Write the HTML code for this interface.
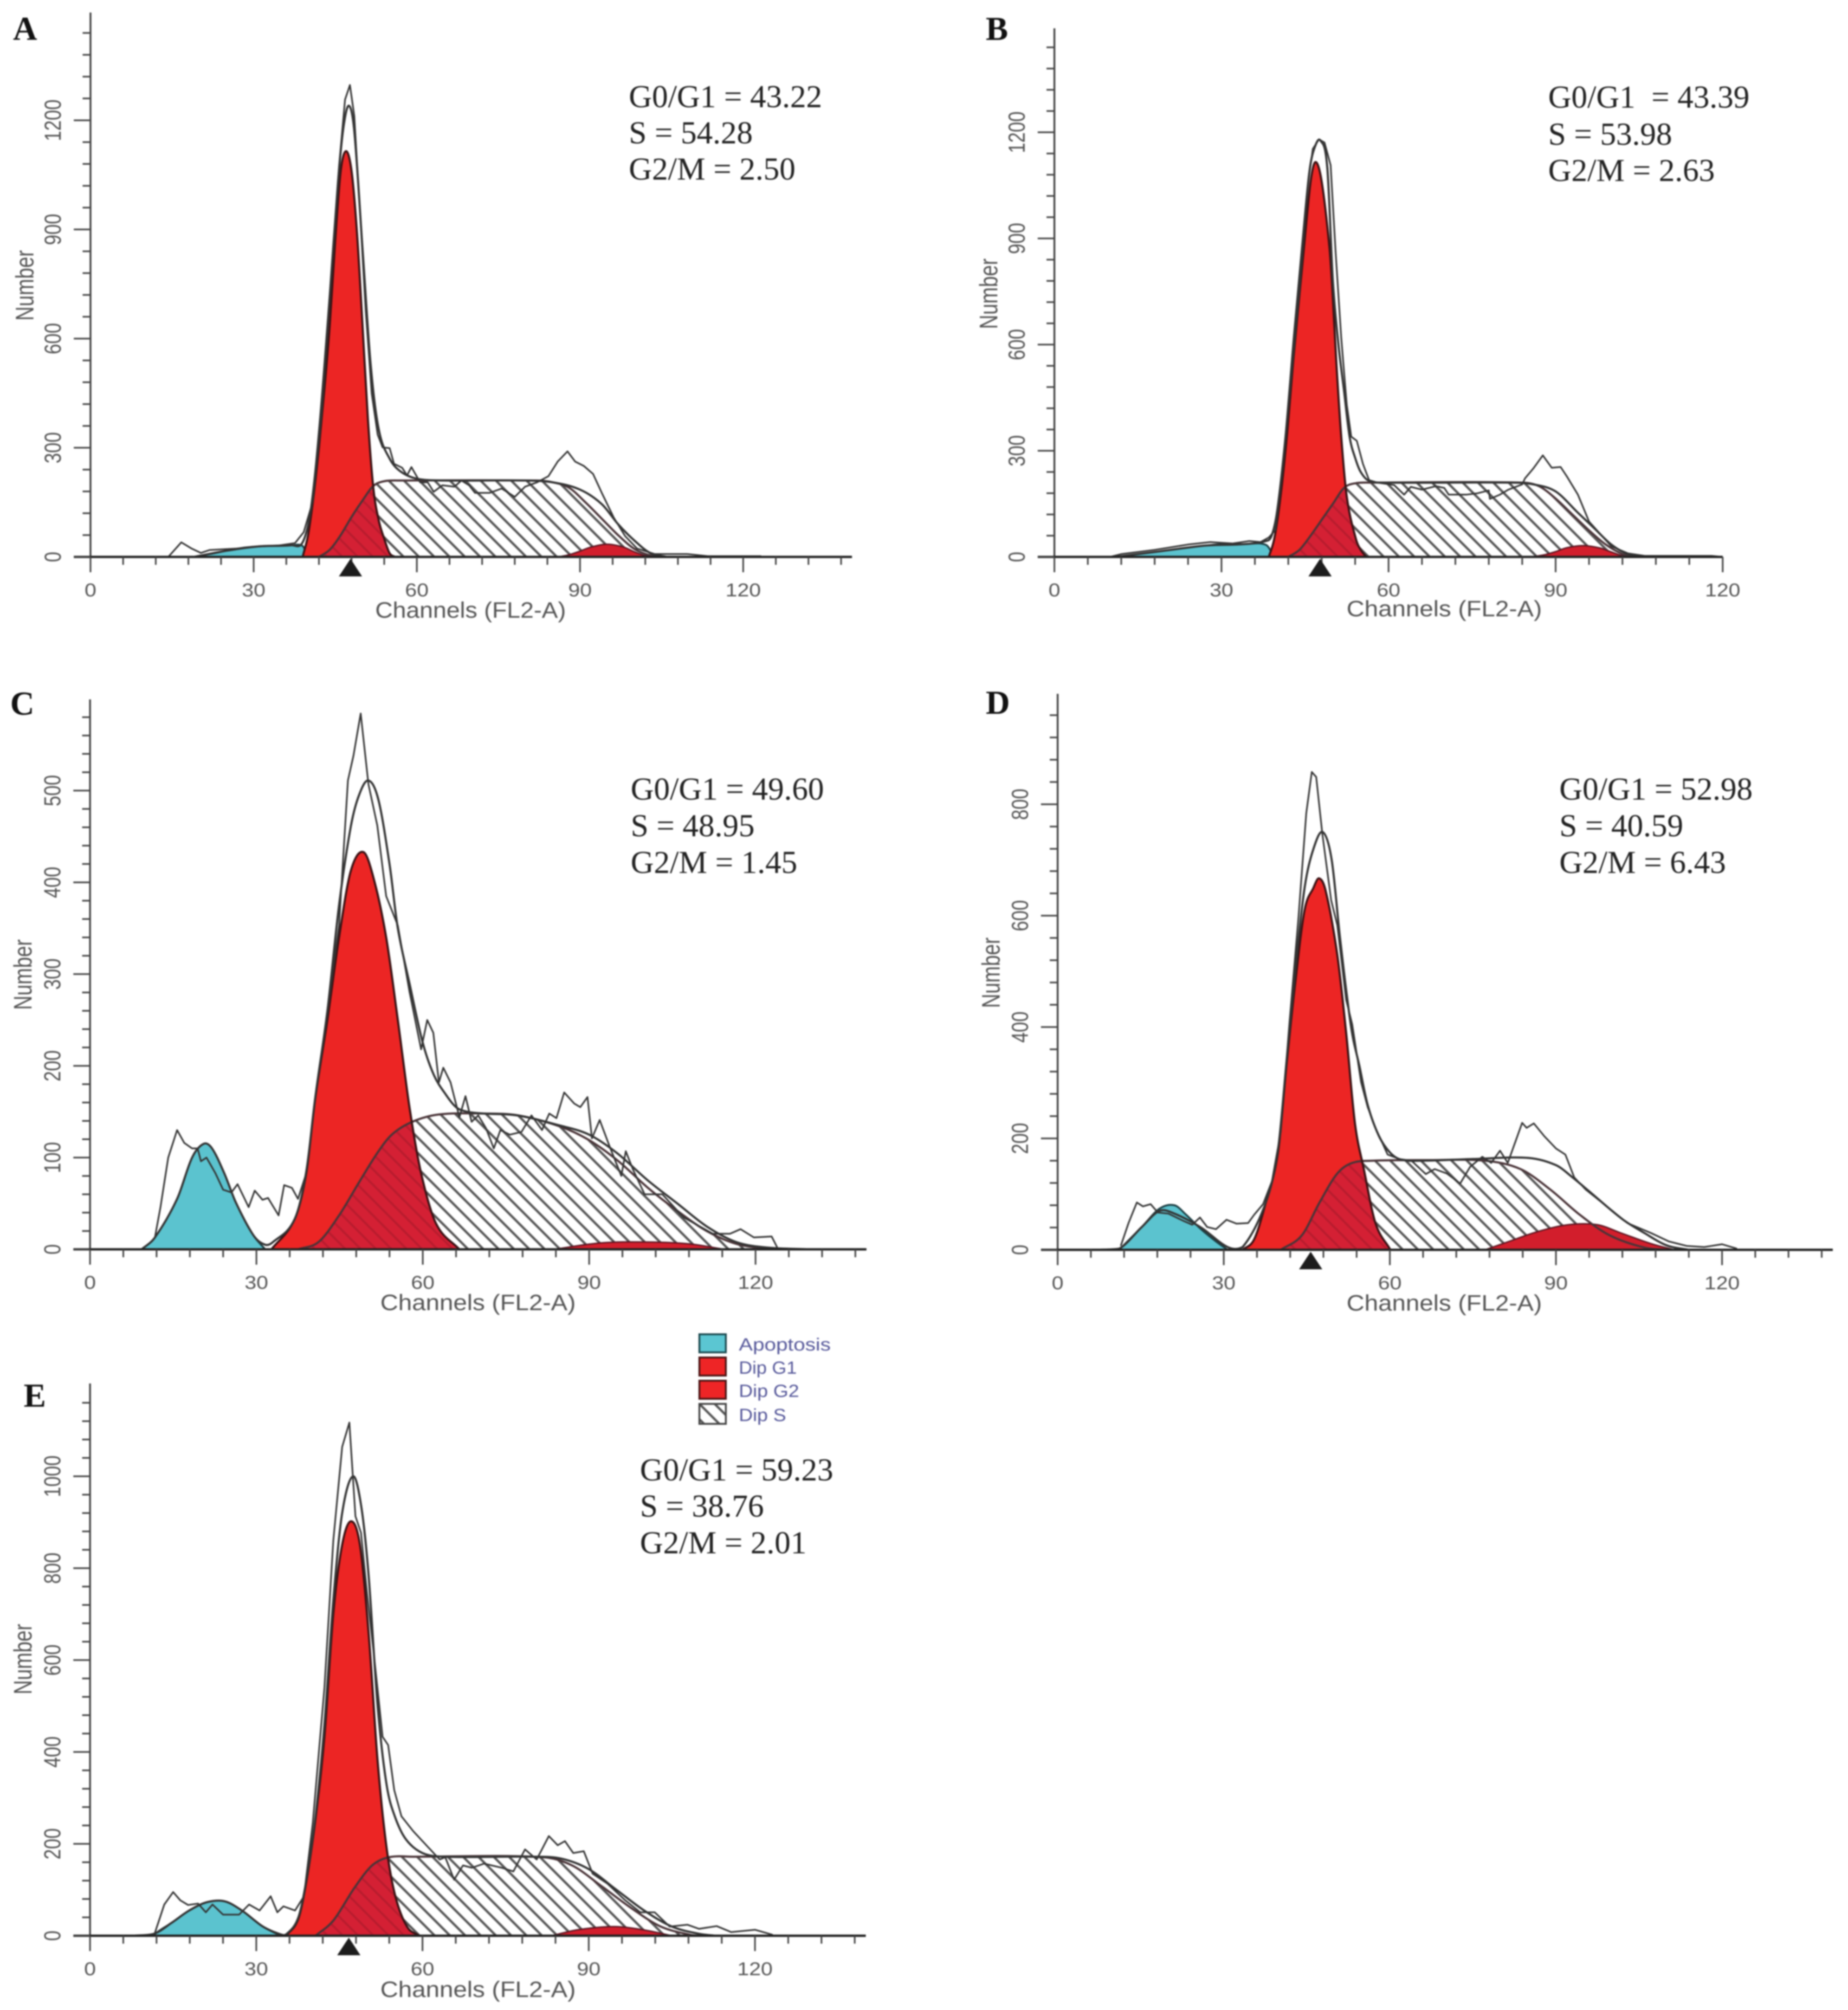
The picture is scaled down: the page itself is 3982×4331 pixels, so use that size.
<!DOCTYPE html>
<html lang="en">
<head>
<meta charset="utf-8">
<title>Cell cycle histograms</title>
<style>
html,body{margin:0;padding:0;background:#fff;}
svg{display:block;filter:blur(1.6px);}
.stat{font-family:"Liberation Serif",serif;font-size:69px;fill:#222;}
.letter{font-family:"Liberation Serif",serif;font-size:72px;font-weight:bold;fill:#111;}
.title{font-family:"Liberation Sans",sans-serif;font-size:48px;fill:#555;}
.legend{font-family:"Liberation Sans",sans-serif;font-size:38px;fill:#56589a;}
</style>
</head>
<body>
<svg id="figure" xmlns="http://www.w3.org/2000/svg" width="3982" height="4331" viewBox="0 0 3982 4331">
<defs>
<pattern id="hatch" patternUnits="userSpaceOnUse" width="33" height="33">
<path d="M-5,-5 L38,38 M-5,28 L5,38 M28,-5 L38,5" stroke="#555" stroke-width="5" fill="none"/>
</pattern>
<pattern id="hatchDark" patternUnits="userSpaceOnUse" width="33" height="33">
<rect width="33" height="33" fill="#d42034"/>
<path d="M-5,-5 L38,38 M-5,28 L5,38 M28,-5 L38,5" stroke="#b81c2e" stroke-width="4.5" fill="none"/>
</pattern>
</defs>
<rect width="3982" height="4331" fill="#fff"/>
<g id="plots"></g>

<g>
<text class="letter" x="28" y="86">A</text>
<text class="stat" x="1355" y="231">G0/G1 = 43.22</text>
<text class="stat" x="1355" y="309">S = 54.28</text>
<text class="stat" x="1355" y="387">G2/M = 2.50</text>
<text class="title" x="1014" y="1331" text-anchor="middle" textLength="411" lengthAdjust="spacingAndGlyphs">Channels (FL2-A)</text>
<text class="title" transform="translate(72,615) rotate(-90)" text-anchor="middle" font-size="55" style="font-size:55px" textLength="152" lengthAdjust="spacingAndGlyphs">Number</text>
</g>
<g>
<text class="letter" x="2124" y="86">B</text>
<text class="stat" x="3336" y="232" xml:space="preserve">G0/G1  = 43.39</text>
<text class="stat" x="3336" y="312">S = 53.98</text>
<text class="stat" x="3336" y="390">G2/M = 2.63</text>
<text class="title" x="3112" y="1328" text-anchor="middle" textLength="421" lengthAdjust="spacingAndGlyphs">Channels (FL2-A)</text>
<text class="title" transform="translate(2149,633) rotate(-90)" text-anchor="middle" style="font-size:55px" textLength="152" lengthAdjust="spacingAndGlyphs">Number</text>
</g>
<g>
<text class="letter" x="22" y="1540">C</text>
<text class="stat" x="1359" y="1723">G0/G1 = 49.60</text>
<text class="stat" x="1359" y="1802">S = 48.95</text>
<text class="stat" x="1359" y="1881">G2/M = 1.45</text>
<text class="title" x="1030" y="2823" text-anchor="middle" textLength="421" lengthAdjust="spacingAndGlyphs">Channels (FL2-A)</text>
<text class="title" transform="translate(68,2100) rotate(-90)" text-anchor="middle" style="font-size:55px" textLength="152" lengthAdjust="spacingAndGlyphs">Number</text>
</g>
<g>
<text class="letter" x="2124" y="1538">D</text>
<text class="stat" x="3360" y="1723">G0/G1 = 52.98</text>
<text class="stat" x="3360" y="1802">S = 40.59</text>
<text class="stat" x="3360" y="1881">G2/M = 6.43</text>
<text class="title" x="3112" y="2824" text-anchor="middle" textLength="421" lengthAdjust="spacingAndGlyphs">Channels (FL2-A)</text>
<text class="title" transform="translate(2154,2096) rotate(-90)" text-anchor="middle" style="font-size:55px" textLength="152" lengthAdjust="spacingAndGlyphs">Number</text>
</g>
<g>
<text class="letter" x="51" y="3031">E</text>
<text class="stat" x="1379" y="3190">G0/G1 = 59.23</text>
<text class="stat" x="1379" y="3268">S = 38.76</text>
<text class="stat" x="1379" y="3347">G2/M = 2.01</text>
<text class="title" x="1030" y="4303" text-anchor="middle" textLength="421" lengthAdjust="spacingAndGlyphs">Channels (FL2-A)</text>
<text class="title" transform="translate(68,3575) rotate(-90)" text-anchor="middle" style="font-size:55px" textLength="152" lengthAdjust="spacingAndGlyphs">Number</text>
</g>

<g>
<rect x="1507" y="2875" width="57" height="39" fill="#5bc6d2" stroke="#1c4a50" stroke-width="4"/>
<text class="legend" x="1592" y="2910" textLength="198" lengthAdjust="spacingAndGlyphs">Apoptosis</text>
<rect x="1507" y="2925" width="57" height="39" fill="#ee2526" stroke="#4a1414" stroke-width="4"/>
<text class="legend" x="1592" y="2960" textLength="125" lengthAdjust="spacingAndGlyphs">Dip G1</text>
<rect x="1507" y="2975" width="57" height="39" fill="#ee2526" stroke="#4a1414" stroke-width="4"/>
<text class="legend" x="1592" y="3010" textLength="130" lengthAdjust="spacingAndGlyphs">Dip G2</text>
<rect x="1507" y="3025" width="57" height="43" fill="url(#hatch)" stroke="#444" stroke-width="4"/>
<text class="legend" x="1592" y="3062" textLength="102" lengthAdjust="spacingAndGlyphs">Dip S</text>
</g>
</svg>

<script>
// ---- Data: [channel, count] ----
const xTickLabels = [0, 30, 60, 90, 120];
const aYTickLabels = [0, 300, 600, 900, 1200];
const bYTickLabels = [0, 300, 600, 900, 1200];
const cYTickLabels = [0, 100, 200, 300, 400, 500];
const dYTickLabels = [0, 200, 400, 600, 800];
const eYTickLabels = [0, 200, 400, 600, 800, 1000];

const aMarker = [47.8];
const bMarker = [47.7];
const cMarker = [];
const dMarker = [45.7];
const eMarker = [46.7];

const aApoptosis = [[19,0],[22,8],[25,17],[28,25],[31,29],[34,31],[37,32],[39,30],[40,0]];
const aG1 = [[39,0],[40,60],[41,165],[42,300],[43,460],[44,640],[45,870],[46,1060],[47,1115],[48,1060],[49,890],[50,640],[51,380],[52,190],[53,100],[54,50],[55,10],[56,0]];
const aS = [[42,0],[44,20],[46,60],[48,110],[50,155],[52,195],[54,208],[57,210],[82,210],[85,205],[88,190],[91,150],[94,105],[97,60],[100,22],[103,4],[106,0]];
const aG2 = [[86,0],[88,6],[90,16],[92,27],[95,35],[98,27],[100,14],[102,3],[103,0]];
const aFit = [[19,0],[25,17],[31,29],[37,32],[39,40],[40.5,130],[42,340],[44,720],[45.5,1030],[46.5,1180],[47.5,1240],[48.5,1170],[50,850],[51.5,530],[53,350],[55,270],[57,235],[60,215],[65,210],[80,210],[85,205],[90,185],[94,145],[97,90],[100,45],[103,10],[106,0]];
const aRaw = [[14.3,0],[16.7,40],[18.6,23],[20.3,11],[21.9,19],[26.8,23],[30,28],[34.4,31],[37.6,38],[39.2,68],[40.9,154],[42.5,392],[44.1,734],[45.7,1075],[46.8,1257],[47.7,1297],[48.5,1212],[49.5,961],[50.6,677],[51.7,449],[52.8,336],[53.7,301],[55,299],[55.8,256],[57.3,245],[58.2,224],[59,247],[60.6,205],[62,205],[63.1,179],[64.7,197],[66.9,193],[68.2,210],[69.6,197],[70.7,176],[73.4,176],[75.6,188],[78,165],[79.9,193],[82.1,205],[84.2,222],[85.9,262],[87.7,290],[89.1,262],[90.7,250],[92.4,228],[94,176],[96.2,108],[98.3,57],[100.5,23],[103.7,8],[109.7,8],[113.5,2],[123.3,2]];

const bApoptosis = [[11,0],[15,8],[19,16],[23,24],[27,32],[30,36],[34,36],[38,34],[39.5,0]];
const bG1 = [[38.5,0],[39.5,53],[40.6,170],[41.8,350],[42.9,556],[44,740],[44.8,872],[46,1060],[46.9,1116],[48,1060],[49.4,872],[50,730],[50.6,556],[51.5,340],[52.5,170],[54.1,53],[55,20],[56,0]];
const bS = [[42,0],[44,20],[46,60],[48,105],[50,150],[52,195],[54,208],[57,210],[84,210],[87,200],[90,165],[93,120],[96,75],[99,35],[102,8],[104,0]];
const bG2 = [[85.6,0],[88,6],[90,15],[92,26],[95,32],[98,25],[100,14],[102,3],[103,0]];
const bFit = [[11,0],[19,16],[27,32],[34,36],[38,45],[39,60],[40,130],[41.5,340],[43,620],[44.5,880],[45.8,1090],[46.8,1160],[47.8,1176],[49,1100],[50,780],[51,600],[52,470],[53,340],[54,280],[55,240],[56.5,215],[60,210],[82,210],[86,205],[90,185],[94,125],[97,80],[100,35],[103,8],[106,0]];
const bRaw = [[10,0],[12,8],[18,20],[24,35],[28,42],[32,38],[35,45],[37,42],[38.5,55],[39.7,76],[41,250],[42.5,500],[44,750],[45.5,1050],[46.4,1153],[47.5,1180],[48.5,1171],[49.6,1107],[50.5,860],[51.5,620],[52.5,430],[53.3,340],[54.3,328],[55.4,263],[56.5,217],[58,210],[61,203],[62.8,176],[64,198],[66,190],[68.5,200],[70,195],[70.8,176],[74,176],[76,180],[78,188],[78.2,164],[80,176],[81.5,190],[84,205],[84.5,222],[86,250],[87.7,287],[89.3,252],[90.9,254],[92,228],[94,176],[96,100],[98,65],[100,30],[103,10],[106,3],[118,3],[120,0]];

const cApoptosis = [[9.3,0],[11.7,13],[15.7,55],[18.4,100],[20.5,115],[22,110],[24.2,83],[26.3,51],[29.5,15],[31.6,0]];
const cG1 = [[32.7,0],[36.9,33],[39,83],[40.6,164],[42.8,250],[44.9,340],[47,412],[49.3,433],[51.2,403],[53.4,340],[55.5,250],[57.6,155],[59.7,83],[62.4,28],[66.6,0]];
const cS = [[37.5,0],[41.2,8],[44.9,37],[48.6,74],[51.8,105],[54.4,125],[58.1,139],[62.9,147],[70.9,148],[77.2,146],[84.7,134],[90,119],[95.3,96],[100.6,67],[105.9,42],[111.2,20],[116.5,6],[121.8,1],[125,0]];
const cG2 = [[83.6,0],[92,7],[100.6,8],[108,6],[114.4,0]];
const cFit = [[9.3,0],[11.7,13],[15.7,55],[18.4,100],[20.5,115],[22,110],[24.2,83],[26.3,51],[29.5,15],[31.6,5],[33,8],[36.9,33],[39,85],[40.6,165],[42.8,260],[44.9,375],[47,460],[48.5,495],[50.2,511],[52,490],[54,420],[55.5,350],[57.6,290],[60,225],[62,190],[64,170],[66,155],[68,150],[71,148],[77,146],[84.7,135],[90,125],[95,105],[100.6,75],[105.9,50],[111.2,25],[116.5,8],[122,2],[130,0]];
const cRaw = [[11.7,13],[12.7,46],[14.1,100],[15.7,130],[17,116],[18.4,110],[19.4,110],[20,96],[21,100],[22.6,83],[24,65],[25.5,62],[26.6,71],[28.6,46],[29.7,64],[31.1,54],[32.1,56],[34,37],[35,70],[36.4,67],[37.5,55],[39,83],[40.6,164],[42.8,259],[44.9,353],[46.5,511],[47.5,538],[48.8,584],[50.2,507],[51.8,462],[53.4,385],[55.5,353],[57.6,281],[59.7,218],[60.8,250],[61.9,236],[62.9,182],[63.7,198],[65,182],[66.6,144],[67.7,167],[68.8,139],[70,146],[71.4,132],[72.8,110],[74,130],[75.7,125],[77.8,128],[79.6,146],[81.5,130],[82.8,148],[84.1,143],[85.5,171],[87.3,159],[88.4,155],[89.7,166],[90.5,121],[91.9,141],[93.7,112],[95.8,80],[96.6,107],[97.9,87],[100,60],[103.2,60],[107,35],[112.3,17],[115.4,17],[117.3,22],[119.7,13],[122.9,14],[124,1]];

const dApoptosis = [[11.1,0],[15.2,41],[18.4,74],[21.1,80],[23.2,63],[25.9,37],[28.6,15],[30.7,0]];
const dG1 = [[33.4,0],[35.5,19],[37.6,85],[39.8,175],[41.4,338],[43,487],[44.6,610],[46.2,650],[47.2,667],[48.4,645],[50.5,530],[52.1,390],[53.7,227],[55.3,145],[57.4,48],[60.1,0]];
const dS = [[40.3,0],[44.1,26],[47.3,85],[50.5,137],[53.2,156],[56.9,160],[66.5,161],[77.2,160],[83.6,145],[89,108],[94.3,63],[99.7,26],[106,4],[110.4,0]];
const dG2 = [[77.2,0],[81.5,15],[86.8,33],[92.2,45],[97.5,45],[101.8,30],[107.2,11],[111.4,0]];
const dFit = [[7,0],[11.1,2],[15.2,41],[18.4,70],[21.1,65],[25.9,40],[30.7,5],[33.4,5],[37.6,85],[39.8,180],[41.4,345],[43,510],[44.6,650],[46.2,720],[47.9,750],[49.5,700],[51,560],[53,400],[54.5,330],[56,260],[58,205],[60,175],[62,162],[66,160],[75,163],[85,165],[90,152],[93,130],[96,105],[102,55],[106,30],[110,8],[114,0]];
const dRaw = [[11.4,7],[12.8,48],[14.3,85],[15.4,78],[16.8,82],[18.1,67],[20,65],[22.7,52],[24.3,45],[25.7,58],[27,41],[28.6,37],[30.5,54],[32.3,47],[34.4,48],[35.5,63],[37.1,82],[38.7,123],[40.3,212],[41.9,412],[43.5,598],[44.9,784],[45.9,858],[46.7,849],[47.8,747],[49.4,628],[50.5,583],[52.1,449],[53.2,405],[54.8,301],[56,256],[57.4,219],[59.6,171],[61.7,163],[63.9,160],[66.5,136],[68.1,145],[70.3,137],[72.7,119],[74.5,149],[76.7,167],[78.3,156],[79.9,178],[81.3,156],[83.9,228],[84.7,219],[86,227],[87.9,204],[90,182],[91.7,171],[93.3,130],[95.4,108],[99.7,74],[102.9,48],[107.2,30],[110.4,15],[113.6,7],[116.8,5],[120,10],[122.7,2]];

const eApoptosis = [[11.7,0],[11.8,5],[14.7,28],[17.9,55],[21.1,73],[24.3,75],[27.4,55],[31.2,20],[34.4,0]];
const eG1 = [[35.4,0],[37.6,37],[39.1,122],[40.7,255],[42.3,433],[43.9,700],[45.5,851],[47.1,902],[48.7,851],[50.3,655],[51.9,380],[53.5,193],[55.1,86],[57.2,20],[59.4,0]];
const eS = [[40.7,0],[43.9,33],[47.7,104],[50.9,153],[54,171],[58.3,172],[81.7,171],[87,153],[92.3,108],[97.7,60],[103,20],[108.3,2],[110,0]];
const eG2 = [[83.3,0],[88,13],[94.5,20],[99.8,13],[105,0]];
const eFit = [[7.8,0],[11.7,5],[14.7,28],[17.9,55],[21.1,73],[24.3,75],[27.4,55],[31.2,20],[34.4,3],[35.4,3],[37.6,40],[39.1,125],[40.7,260],[42.3,460],[43.9,730],[45.5,920],[47.5,1000],[49,930],[50.3,780],[51.9,500],[53.5,330],[55,260],[57,210],[60,180],[64,172],[80,172],[85,168],[90,145],[95,100],[100,55],[105,20],[110,4],[113,0]];
const eRaw = [[11.7,6],[13.4,68],[15,95],[16.3,77],[17.7,67],[19.5,70],[20.9,51],[22.1,68],[24,46],[26.9,46],[28.7,68],[30.6,55],[32.6,86],[33.8,51],[34.9,64],[37,55],[38.6,86],[40.2,246],[42.3,540],[43.9,860],[45.5,1064],[46.8,1117],[47.9,913],[48.9,877],[50,744],[51.4,593],[52.8,433],[53.8,415],[54.9,317],[56.2,260],[58.3,228],[61,193],[63.1,166],[64.1,171],[65.7,122],[67.3,153],[68.9,148],[71.1,157],[74.3,148],[76.4,140],[78.5,188],[80.6,166],[82.8,217],[84.4,197],[85.7,206],[87.2,180],[89.1,184],[90.7,135],[93.4,113],[96.6,77],[99.3,51],[101.9,51],[104.6,20],[107.8,24],[109.9,15],[113.1,21],[115.7,8],[120,13],[123.2,2]];

// ---- Layout of each panel (pixels), not data ----
const panels = [
 {id:'a',x0:195,xPx:11.72,xEnd:140,y0:1200,yPx:0.784,top:27,minorY:60,maxMinorY:1440,yTicks:aYTickLabels,marker:aMarker,apo:aApoptosis,g1:aG1,s:aS,g2:aG2,fit:aFit,raw:aRaw},
 {id:'b',x0:2272,xPx:12.0,xEnd:120,y0:1200,yPx:0.7625,top:61,minorY:60,maxMinorY:1440,yTicks:bYTickLabels,marker:bMarker,apo:bApoptosis,g1:bG1,s:bS,g2:bG2,fit:bFit,raw:bRaw},
 {id:'c',x0:194,xPx:11.95,xEnd:140,y0:2692,yPx:1.977,top:1507,minorY:20,maxMinorY:580,yTicks:cYTickLabels,marker:cMarker,apo:cApoptosis,g1:cG1,s:cS,g2:cG2,fit:cFit,raw:cRaw},
 {id:'d',x0:2279,xPx:11.93,xEnd:140,y0:2693,yPx:1.2,top:1495,minorY:40,maxMinorY:960,yTicks:dYTickLabels,marker:dMarker,apo:dApoptosis,g1:dG1,s:dS,g2:dG2,fit:dFit,raw:dRaw},
 {id:'e',x0:194,xPx:11.94,xEnd:140,y0:4171,yPx:0.99,top:2981,minorY:40,maxMinorY:1160,yTicks:eYTickLabels,marker:eMarker,apo:eApoptosis,g1:eG1,s:eS,g2:eG2,fit:eFit,raw:eRaw}
];

const NS = 'http://www.w3.org/2000/svg';
function make(tag, attrs, parent) {
  const el = document.createElementNS(NS, tag);
  for (const k in attrs) el.setAttribute(k, attrs[k]);
  parent.appendChild(el);
  return el;
}
function xScale(p, ch) { return p.x0 + ch * p.xPx; }
function yScale(p, v) { return p.y0 - v * p.yPx; }
function rawPath(p, pts) {
  return pts.map(function (d, i) { return (i ? 'L' : 'M') + xScale(p, d[0]).toFixed(1) + ',' + yScale(p, d[1]).toFixed(1); }).join(' ');
}
function smoothPath(p, pts) {
  const q = pts.map(function (d) { return [xScale(p, d[0]), yScale(p, d[1])]; });
  let s = 'M' + q[0][0].toFixed(1) + ',' + q[0][1].toFixed(1);
  for (let i = 0; i < q.length - 1; i++) {
    const a = q[Math.max(i - 1, 0)], b = q[i], c = q[i + 1], d = q[Math.min(i + 2, q.length - 1)];
    const dx = c[0] - b[0];
    const m1 = (c[1] - a[1]) / ((c[0] - a[0]) || 1);
    const m2 = (d[1] - b[1]) / ((d[0] - b[0]) || 1);
    const y1 = Math.min(b[1] + m1 * dx / 3, p.y0);
    const y2 = Math.min(c[1] - m2 * dx / 3, p.y0);
    s += ' C' + (b[0] + dx / 3).toFixed(1) + ',' + y1.toFixed(1) + ' ' + (c[0] - dx / 3).toFixed(1) + ',' + y2.toFixed(1) + ' ' + c[0].toFixed(1) + ',' + c[1].toFixed(1);
  }
  return s;
}
function closed(p, pts) {
  return smoothPath(p, pts) + ' L' + xScale(p, pts[pts.length - 1][0]).toFixed(1) + ',' + p.y0 + ' L' + xScale(p, pts[0][0]).toFixed(1) + ',' + p.y0 + ' Z';
}

const root = document.getElementById('plots');
const defs = document.querySelector('#figure defs');

panels.forEach(function (p) {
  const g = make('g', {}, root);
  
  

  const apo = make('path', {d: closed(p, p.apo), fill: '#5bc3cf', stroke: '#1d3f44', 'stroke-width': 4}, g);
  
  

  const sArea = make('path', {d: closed(p, p.s), fill: 'url(#hatch)', stroke: 'none'}, g);
  
  

  const g1 = make('path', {d: closed(p, p.g1), fill: '#ec2524', stroke: 'none'}, g);
  
  

  const clip = make('clipPath', {id: 'clip-g1-' + p.id}, defs);
  make('path', {d: closed(p, p.g1)}, clip);

  const overlap = make('path', {d: closed(p, p.s), fill: 'url(#hatchDark)', stroke: 'none', 'clip-path': 'url(#clip-g1-' + p.id + ')'}, g);
  
  

  const g2 = make('path', {d: closed(p, p.g2), fill: '#d21e2c', stroke: '#5a1420', 'stroke-width': 3}, g);
  
  

  const sLine = make('path', {d: smoothPath(p, p.s), fill: 'none', stroke: '#4a3438', 'stroke-width': 4.5}, g);
  
  

  const g1Line = make('path', {d: smoothPath(p, p.g1), fill: 'none', stroke: '#3a1214', 'stroke-width': 4.5}, g);
  
  

  const fit = make('path', {d: smoothPath(p, p.fit), fill: 'none', stroke: '#333', 'stroke-width': 4.5}, g);
  
  

  const raw = make('path', {d: rawPath(p, p.raw), fill: 'none', stroke: '#333', 'stroke-width': 3.5, 'stroke-linejoin': 'round'}, g);
  
  

  // axes
  const yAxis = make('line', {x1: p.x0, x2: p.x0, y1: p.top, y2: p.y0, stroke: '#444', 'stroke-width': 4}, g);
  
  

  const xAxis = make('line', {x1: p.x0 - 36, x2: xScale(p, p.xEnd), y1: p.y0, y2: p.y0, stroke: '#222', 'stroke-width': 5}, g);
  
  

  for (let c = 0; c <= p.xEnd; c += 6) {
    const major = c % 30 === 0;
    const t = make('line', {x1: xScale(p, c), x2: xScale(p, c), y1: p.y0, y2: p.y0 + (major ? 33 : 17), stroke: '#444', 'stroke-width': 3.5}, g);
    
    
  }
  for (let v = 0; v <= p.maxMinorY; v += p.minorY) {
    const major = p.yTicks.indexOf(v) >= 0;
    const t = make('line', {x1: p.x0 - (major ? 36 : 17), x2: p.x0, y1: yScale(p, v), y2: yScale(p, v), stroke: '#444', 'stroke-width': 3.5}, g);
    
    
  }
  const xLabelBaseline = p.y0 + 85;
  xTickLabels.forEach(function (c) {
    const s = String(c);
    const t = make('text', {x: xScale(p, c), y: xLabelBaseline, 'text-anchor': 'middle', 'font-family': '"Liberation Sans",sans-serif', 'font-size': 40, fill: '#555', textLength: s.length * 25.4, lengthAdjust: 'spacingAndGlyphs'}, g);
    
    
    t.textContent = s;
  });
  p.yTicks.forEach(function (v) {
    const s = String(v);
    const t = make('text', {transform: 'translate(' + (p.x0 - 64) + ',' + yScale(p, v) + ') rotate(-90)', 'text-anchor': 'middle', 'font-family': '"Liberation Sans",sans-serif', 'font-size': 50, fill: '#555', textLength: s.length * 22.5, lengthAdjust: 'spacingAndGlyphs'}, g);
    
    
    t.textContent = s;
  });
  p.marker.forEach(function (c) {
    const mx = xScale(p, c);
    const tri = make('polygon', {points: (mx - 25) + ',' + (p.y0 + 42) + ' ' + (mx + 25) + ',' + (p.y0 + 42) + ' ' + mx + ',' + (p.y0 + 4), fill: '#1c1c1c'}, g);
    
    
  });
});
</script>
</body>
</html>
